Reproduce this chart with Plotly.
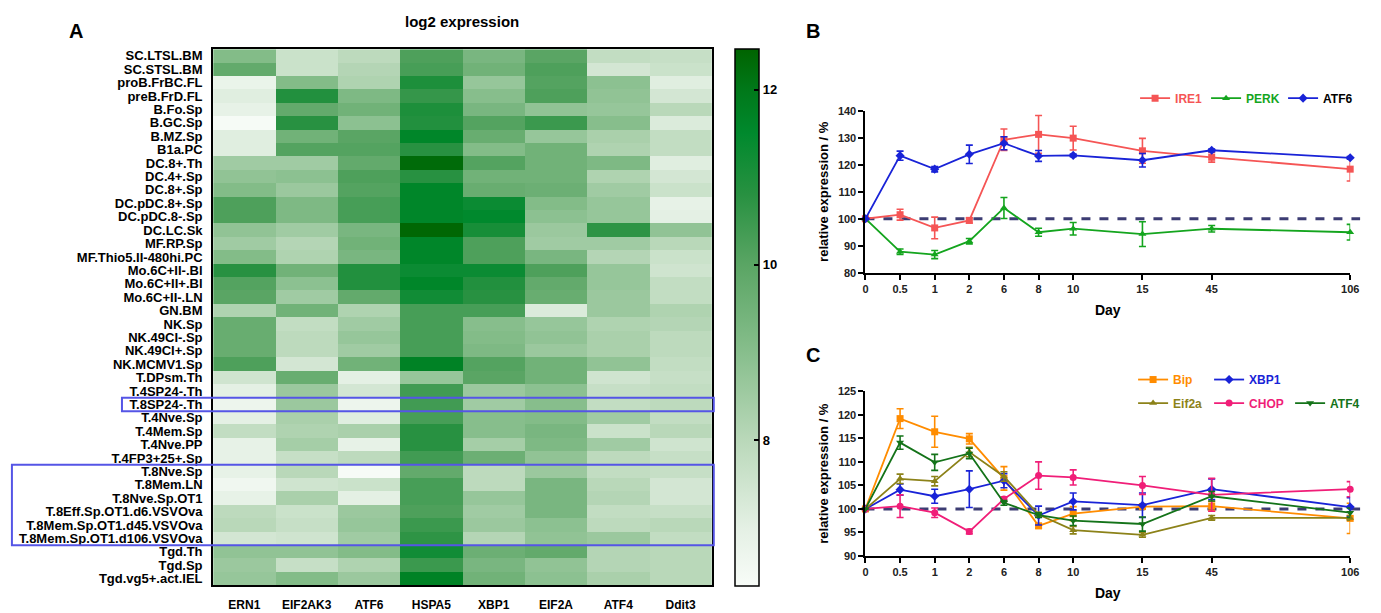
import plotly.graph_objects as go

W, H = 1381, 613

# ---------------- Panel A data ----------------
genes = ["ERN1", "EIF2AK3", "ATF6", "HSPA5", "XBP1", "EIF2A", "ATF4", "Ddit3"]
cells = [
    "SC.LTSL.BM", "SC.STSL.BM", "proB.FrBC.FL", "preB.FrD.FL", "B.Fo.Sp", "B.GC.Sp",
    "B.MZ.Sp", "B1a.PC", "DC.8+.Th", "DC.4+.Sp", "DC.8+.Sp", "DC.pDC.8+.Sp",
    "DC.pDC.8-.Sp", "DC.LC.Sk", "MF.RP.Sp", "MF.Thio5.II-480hi.PC", "Mo.6C+II-.Bl",
    "Mo.6C+II+.Bl", "Mo.6C+II-.LN", "GN.BM", "NK.Sp", "NK.49CI-.Sp", "NK.49CI+.Sp",
    "NK.MCMV1.Sp", "T.DPsm.Th", "T.4SP24-.Th", "T.8SP24-.Th", "T.4Nve.Sp",
    "T.4Mem.Sp", "T.4Nve.PP", "T.4FP3+25+.Sp", "T.8Nve.Sp", "T.8Mem.LN",
    "T.8Nve.Sp.OT1", "T.8Eff.Sp.OT1.d6.VSVOva", "T.8Mem.Sp.OT1.d45.VSVOva",
    "T.8Mem.Sp.OT1.d106.VSVOva", "Tgd.Th", "Tgd.Sp", "Tgd.vg5+.act.IEL",
]
expr = [
    [9.1, 7.6, 7.9, 10.2, 9.3, 10.0, 7.8, 7.7],
    [9.8, 7.6, 8.1, 10.3, 9.5, 10.2, 7.4, 7.6],
    [6.8, 9.1, 8.2, 11.0, 8.7, 10.1, 8.9, 7.1],
    [7.1, 10.9, 9.2, 10.6, 9.0, 10.2, 8.8, 7.4],
    [6.9, 9.8, 9.5, 11.0, 9.3, 8.8, 8.7, 8.0],
    [6.4, 10.8, 8.9, 10.9, 10.1, 10.5, 9.0, 7.2],
    [7.1, 9.5, 10.0, 11.6, 9.7, 8.7, 8.3, 7.8],
    [7.1, 10.1, 10.1, 10.8, 9.1, 9.5, 8.2, 7.8],
    [8.5, 8.5, 9.8, 12.3, 10.1, 9.5, 9.2, 7.1],
    [8.8, 8.9, 10.2, 10.8, 9.5, 9.5, 8.2, 7.4],
    [9.1, 8.6, 10.1, 11.6, 9.7, 9.6, 8.5, 7.6],
    [10.2, 9.2, 10.3, 11.6, 11.3, 9.1, 8.7, 6.9],
    [10.2, 9.2, 10.3, 11.6, 11.5, 8.9, 8.7, 7.0],
    [8.8, 8.5, 9.3, 12.4, 11.1, 8.6, 10.7, 8.8],
    [8.5, 8.1, 9.5, 11.6, 10.2, 8.5, 8.5, 8.0],
    [9.1, 8.2, 9.3, 11.6, 10.2, 9.3, 8.1, 7.6],
    [10.8, 9.5, 10.9, 11.3, 11.3, 10.2, 8.7, 7.5],
    [10.1, 8.9, 10.9, 11.6, 10.9, 9.8, 8.7, 7.8],
    [10.0, 8.5, 9.8, 11.2, 10.8, 9.7, 8.6, 7.8],
    [8.2, 9.5, 8.2, 10.3, 10.3, 7.2, 8.6, 8.2],
    [9.7, 7.8, 8.5, 10.3, 9.0, 8.7, 8.2, 8.1],
    [9.7, 7.9, 8.7, 10.3, 9.1, 8.8, 8.3, 7.9],
    [9.7, 7.9, 8.5, 10.3, 9.2, 8.6, 8.3, 7.9],
    [10.2, 7.4, 9.5, 11.7, 10.1, 9.5, 8.8, 7.8],
    [7.5, 9.7, 7.0, 8.7, 10.0, 9.5, 7.5, 7.7],
    [7.0, 8.6, 7.4, 10.4, 8.6, 8.9, 7.7, 7.8],
    [6.7, 8.6, 6.7, 10.4, 8.5, 9.0, 7.8, 7.9],
    [7.0, 8.3, 7.1, 10.3, 9.0, 9.1, 8.5, 7.8],
    [7.8, 8.2, 8.3, 10.8, 9.0, 9.3, 7.6, 8.0],
    [6.9, 8.4, 6.9, 10.8, 8.4, 9.2, 8.5, 7.5],
    [6.9, 7.7, 7.9, 10.4, 9.6, 8.8, 7.9, 7.7],
    [6.9, 8.0, 6.4, 9.8, 7.9, 8.6, 7.8, 7.7],
    [6.6, 7.5, 7.6, 10.3, 7.9, 9.3, 8.0, 7.4],
    [6.9, 8.3, 7.0, 10.3, 8.7, 9.3, 8.1, 7.4],
    [7.9, 7.6, 8.6, 10.2, 8.5, 9.3, 7.8, 7.7],
    [8.0, 7.7, 8.7, 10.5, 8.6, 8.9, 7.9, 8.0],
    [7.4, 7.5, 8.5, 10.7, 8.1, 8.8, 8.6, 7.8],
    [8.8, 8.8, 9.1, 11.2, 9.6, 9.8, 8.1, 8.0],
    [8.6, 7.7, 8.2, 10.5, 9.3, 8.8, 8.1, 8.0],
    [8.7, 9.1, 8.6, 11.7, 9.5, 8.9, 8.3, 8.0],
]
z_min, z_max = 6.33, 12.46
cbar_ticks = [8, 10, 12]
boxed_single = ["T.8SP24-.Th"]
boxed_group = ["T.8Nve.Sp", "T.8Mem.Sp.OT1.d106.VSVOva"]

# ---------------- Panels B & C data ----------------
day_labels = ["0", "0.5", "1", "2", "6", "8", "10", "15", "45", "106"]
day_pos = [0, 1, 2, 3, 4, 5, 6, 8, 10, 14]   # broken (non-linear) day axis

ire1 = [100, 101.5, 96.6, 99.4, 129.3, 131.3, 129.9, 125.2, 122.8, 118.4]
ire1_err = [0, 2.0, 4.0, 1.0, 4.0, 7.0, 4.4, 4.6, 1.8, 4.4]
perk = [100, 87.8, 86.7, 91.7, 104.0, 95.0, 96.3, 94.3, 96.3, 95.0]
perk_err = [0, 1.0, 1.5, 1.0, 3.9, 1.5, 2.3, 4.6, 1.2, 2.9]
atf6 = [100, 123.4, 118.4, 123.9, 128.0, 123.3, 123.5, 121.7, 125.4, 122.6]
atf6_err = [0, 1.7, 1.0, 3.4, 2.4, 2.0, 0.5, 2.5, 0.5, 0.5]

bip = [100, 119.2, 116.4, 114.9, 106.5, 96.4, 99.0, 100.5, 100.6, 98.0]
bip_err = [0, 2.1, 3.3, 1.1, 2.5, 0.5, 1.5, 0.5, 1.0, 3.2]
xbp1 = [100, 104.1, 102.7, 104.2, 106.0, 98.6, 101.6, 100.8, 104.2, 100.4]
xbp1_err = [0, 1.2, 1.5, 3.9, 1.5, 2.0, 1.8, 2.6, 2.2, 2.0]
eif2a = [100, 106.4, 105.9, 112.1, 106.9, 98.8, 95.5, 94.5, 98.1, 98.1]
eif2a_err = [0, 1.0, 1.0, 1.0, 1.0, 0.5, 0.8, 0.5, 0.5, 0.5]
chop = [100, 100.6, 99.2, 95.2, 102.1, 107.1, 106.7, 105.0, 103.0, 104.2]
chop_err = [0, 2.4, 1.0, 0.5, 0.5, 2.9, 1.6, 1.9, 3.5, 1.6]
atf4 = [100, 114.1, 109.9, 111.8, 101.3, 98.7, 97.5, 96.8, 102.7, 99.2]
atf4_err = [0, 1.4, 1.7, 1.1, 0.5, 0.5, 1.0, 1.5, 1.0, 1.0]


def px(x):
    return x / W


def py(y):
    return 1 - y / H


BOLD = dict(family="Liberation Sans, Arial, sans-serif", weight="bold")

fig = go.Figure()

# ---------------- Heatmap ----------------
stops = [(6.33, (248, 252, 248)), (7.0, (228, 240, 228)), (8.0, (185, 216, 185)),
         (9.0, (135, 190, 140)), (10.0, (90, 165, 100)), (10.8, (40, 145, 65)),
         (11.5, (0, 137, 45)), (12.0, (0, 120, 25)), (12.46, (0, 100, 0))]
colorscale = [[(v - z_min) / (z_max - z_min), "rgb(%d,%d,%d)" % c] for v, c in stops]
colorscale[-1][0] = 1.0

fig.add_trace(go.Heatmap(
    z=expr, x=genes, y=cells, zmin=z_min, zmax=z_max, colorscale=colorscale,
    xaxis="x", yaxis="y", xgap=0, ygap=0,
    colorbar=dict(
        x=px(738), xanchor="left", y=py(318), yanchor="middle",
        len=548 / H, lenmode="fraction", thickness=24, thicknessmode="pixels",
        outlinecolor="black", outlinewidth=1.5, xpad=0, ypad=0,
        tickvals=cbar_ticks, ticks="inside", ticklen=5, tickwidth=2, tickcolor="black",
        tickfont=dict(size=13, color="black", **BOLD),
    ),
))

# ---------------- Line panels ----------------
def add_series(y, err, name, color, symbol, xa, ya, legend, legendwidth, size=7):
    fig.add_trace(go.Scatter(
        x=day_pos, y=y, mode="lines+markers", xaxis=xa, yaxis=ya, legend=legend,
        name=name, legendwidth=legendwidth,
        line=dict(color=color, width=1.8),
        marker=dict(color=color, symbol=symbol, size=size),
        error_y=dict(type="data", array=err, color=color, thickness=1.6, width=3.5),
        cliponaxis=False,
    ))


c_ire1, c_perk, c_atf6 = "rgb(245,85,85)", "rgb(20,165,30)", "rgb(25,35,215)"
add_series(ire1, ire1_err, '<span style="color:%s">IRE1</span>' % c_ire1, c_ire1, "square", "x2", "y2", "legend", 26)
add_series(perk, perk_err, '<span style="color:%s">PERK</span>' % c_perk, c_perk, "triangle-up", "x2", "y2", "legend", 32)
add_series(atf6, atf6_err, '<span style="color:black">ATF6</span>', c_atf6, "diamond", "x2", "y2", "legend", 30)

c_bip, c_xbp1, c_eif, c_chop, c_atf4 = "rgb(255,140,0)", "rgb(25,35,215)", "rgb(140,130,25)", "rgb(240,30,120)", "rgb(20,115,25)"
add_series(bip, bip_err, '<span style="color:%s">Bip</span>' % c_bip, c_bip, "square", "x3", "y3", "legend2", 31)
add_series(xbp1, xbp1_err, '<span style="color:%s">XBP1</span>' % c_xbp1, c_xbp1, "diamond", "x3", "y3", "legend2", 33)
add_series(eif2a, eif2a_err, '<span style="color:%s">Eif2a</span>' % c_eif, c_eif, "triangle-up", "x3", "y3", "legend3", 31)
add_series(chop, chop_err, '<span style="color:%s">CHOP</span>' % c_chop, c_chop, "circle", "x3", "y3", "legend3", 36)
add_series(atf4, atf4_err, '<span style="color:%s">ATF4</span>' % c_atf4, c_atf4, "triangle-down", "x3", "y3", "legend3", 31)

tickfont = dict(size=11, color="#222", **BOLD)
line_ax = dict(showline=True, linecolor="black", linewidth=2, ticks="outside",
               ticklen=5, tickwidth=2, tickcolor="black", showgrid=False,
               zeroline=False, tickfont=tickfont)

x_dom = [px(870), px(1359)]
fig.update_layout(
    width=W, height=H, margin=dict(l=0, r=0, t=0, b=0),
    paper_bgcolor="white", plot_bgcolor="white",
    font=dict(family="Liberation Sans, Arial, sans-serif", color="black"),
    xaxis=dict(domain=[px(212), px(715)], anchor="y", showline=True, mirror=True,
               linecolor="black", linewidth=2, ticks="", showgrid=False,
               tickfont=dict(size=12, color="black", **BOLD), ticklabelstandoff=7),
    yaxis=dict(domain=[py(591), py(44)], anchor="x", autorange="reversed",
               tickmode="linear", tick0=0, dtick=1,
               showline=True, mirror=True, linecolor="black", linewidth=2,
               ticks="", showgrid=False, tickfont=dict(size=13, color="black", **BOLD),
               ticklabelstandoff=6),
    xaxis2=dict(domain=x_dom, anchor="y2", range=[0, 14], tickvals=day_pos,
                ticktext=day_labels, title=dict(text="Day", standoff=11,
                font=dict(size=14, **BOLD)), **line_ax),
    yaxis2=dict(domain=[py(272), py(107)], anchor="x2", range=[80, 140], dtick=10,
                title=dict(text="relative expression / %", standoff=6,
                font=dict(size=13, **BOLD)), **line_ax),
    xaxis3=dict(domain=x_dom, anchor="y3", range=[0, 14], tickvals=day_pos,
                ticktext=day_labels, title=dict(text="Day", standoff=11,
                font=dict(size=14, **BOLD)), **line_ax),
    yaxis3=dict(domain=[py(561), py(393)], anchor="x3", range=[90, 125], dtick=5,
                title=dict(text="relative expression / %", standoff=6,
                font=dict(size=13, **BOLD)), **line_ax),
    legend=dict(orientation="h", x=px(1142), xanchor="left", y=py(94), yanchor="middle",
                font=dict(size=12, **BOLD), bgcolor="rgba(0,0,0,0)", itemwidth=30),
    legend2=dict(orientation="h", x=px(1140), xanchor="left", y=py(381), yanchor="middle",
                 font=dict(size=12, **BOLD), bgcolor="rgba(0,0,0,0)", itemwidth=30),
    legend3=dict(orientation="h", x=px(1140), xanchor="left", y=py(405), yanchor="middle",
                 font=dict(size=12, **BOLD), bgcolor="rgba(0,0,0,0)", itemwidth=30),
    showlegend=True,
)

# Reference dashed line at 100 %
for ya in ["y2", "y3"]:
    fig.add_shape(type="line", xref="paper", yref=ya, x0=px(870), x1=px(1369),
                  y0=100, y1=100, layer="below",
                  line=dict(color="rgb(60,60,115)", width=3, dash="dash"))

# Highlight boxes on heatmap
i0 = cells.index(boxed_single[0])
fig.add_shape(type="rect", xref="paper", yref="y", x0=px(120), x1=px(717),
              y0=i0 - 0.5, y1=i0 + 0.5, line=dict(color="rgb(85,85,230)", width=2))
g0, g1 = cells.index(boxed_group[0]), cells.index(boxed_group[1])
fig.add_shape(type="rect", xref="paper", yref="y", x0=px(9), x1=px(717),
              y0=g0 - 0.5, y1=g1 + 0.5, line=dict(color="rgb(85,85,230)", width=2))

# Titles and panel letters
annos = [
    dict(text="log2 expression", x=px(463), y=py(16), size=15),
    dict(text="A", x=px(74), y=py(26), size=20),
    dict(text="B", x=px(817), y=py(26), size=20),
    dict(text="C", x=px(817), y=py(356), size=20),
]
for a in annos:
    fig.add_annotation(text=a["text"], x=a["x"], y=a["y"], xref="paper", yref="paper",
                       showarrow=False, xanchor="center", yanchor="middle",
                       font=dict(size=a["size"], color="black", **BOLD))

fig.write_html("out.html", config={"displayModeBar": False},
               post_script="document.body.style.margin='0px';document.body.style.overflow='hidden';")
